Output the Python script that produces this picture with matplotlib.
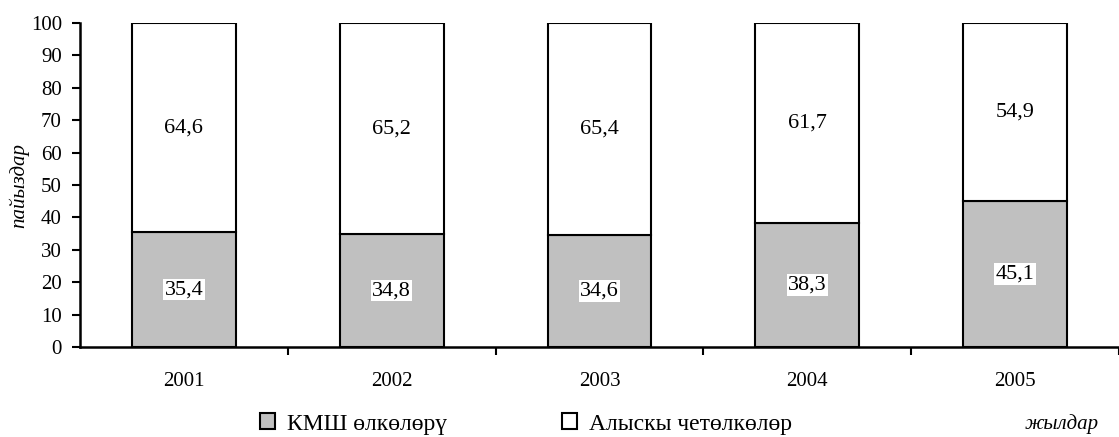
import matplotlib
matplotlib.use("Agg")
import matplotlib.pyplot as plt
from matplotlib.patches import Patch
import numpy as np

plt.rcParams['font.family'] = ['Liberation Serif', 'DejaVu Serif']

years = ['2001', '2002', '2003', '2004', '2005']
cis = [35.4, 34.8, 34.6, 38.3, 45.1]
far = [64.6, 65.2, 65.4, 61.7, 54.9]
series_names = ['КМШ өлкөлөрү', 'Алыскы четөлкөлөр']
ylabel = 'пайыздар'
xlabel = 'жылдар'

fig = plt.figure(figsize=(11.19, 4.37), dpi=100)
ax = fig.add_axes([80/1119, 90/437, 1 - 80/1119, 324/437])

x = np.arange(len(years))
lw = 1.5
ax.bar(x, cis, width=0.5, color='#c0c0c0', edgecolor='black', linewidth=lw, zorder=2)
ax.bar(x, far, width=0.5, bottom=cis, color='white', edgecolor='black', linewidth=lw, zorder=2)

for i in range(len(years)):
    ax.text(x[i], cis[i] / 2, f"{cis[i]:.1f}".replace('.', ','), ha='center', va='center',
            fontsize=16, bbox=dict(facecolor='white', edgecolor='none', pad=1.0), zorder=3)
    ax.text(x[i], cis[i] + far[i] / 2, f"{far[i]:.1f}".replace('.', ','), ha='center', va='center',
            fontsize=16, zorder=3)

ax.set_ylim(0, 100)
ax.set_xlim(-0.5, -0.5 + (1119 - 80) / 209.5)
ax.set_yticks(np.arange(0, 101, 10))
ax.set_yticklabels([str(v) for v in range(0, 101, 10)], fontsize=15)
ax.set_xticks(x + 0.5, minor=False)
ax.set_xticklabels([])
ax.set_xticks(x, minor=True)
ax.set_xticklabels(years, minor=True, fontsize=15)
ax.tick_params(axis='x', which='major', direction='out', length=6, width=1.5)
ax.tick_params(axis='x', which='minor', length=0, pad=18)
ax.tick_params(axis='y', direction='out', length=6, width=1.5, pad=7)

for s in ['top', 'right']:
    ax.spines[s].set_visible(False)
for s in ['left', 'bottom']:
    ax.spines[s].set_linewidth(1.8)

ax.set_ylabel(ylabel, fontsize=15, style='italic', labelpad=1)
fig.text(1062/1119, 1 - 424/437, xlabel, fontsize=15, style='italic', ha='center', va='center')

handles = [Patch(facecolor='#c0c0c0', edgecolor='black', linewidth=1.5),
           Patch(facecolor='white', edgecolor='black', linewidth=1.5)]
for h, name, xl in zip(handles, series_names, [260/1119, 562/1119]):
    fig.legend([h], [name], loc='center left', bbox_to_anchor=(xl, 1 - 424/437),
               frameon=False, fontsize=17, handlelength=0.65, handleheight=0.65,
               handletextpad=0.5, borderpad=0, borderaxespad=0)

fig.savefig('out.png', dpi=100)
